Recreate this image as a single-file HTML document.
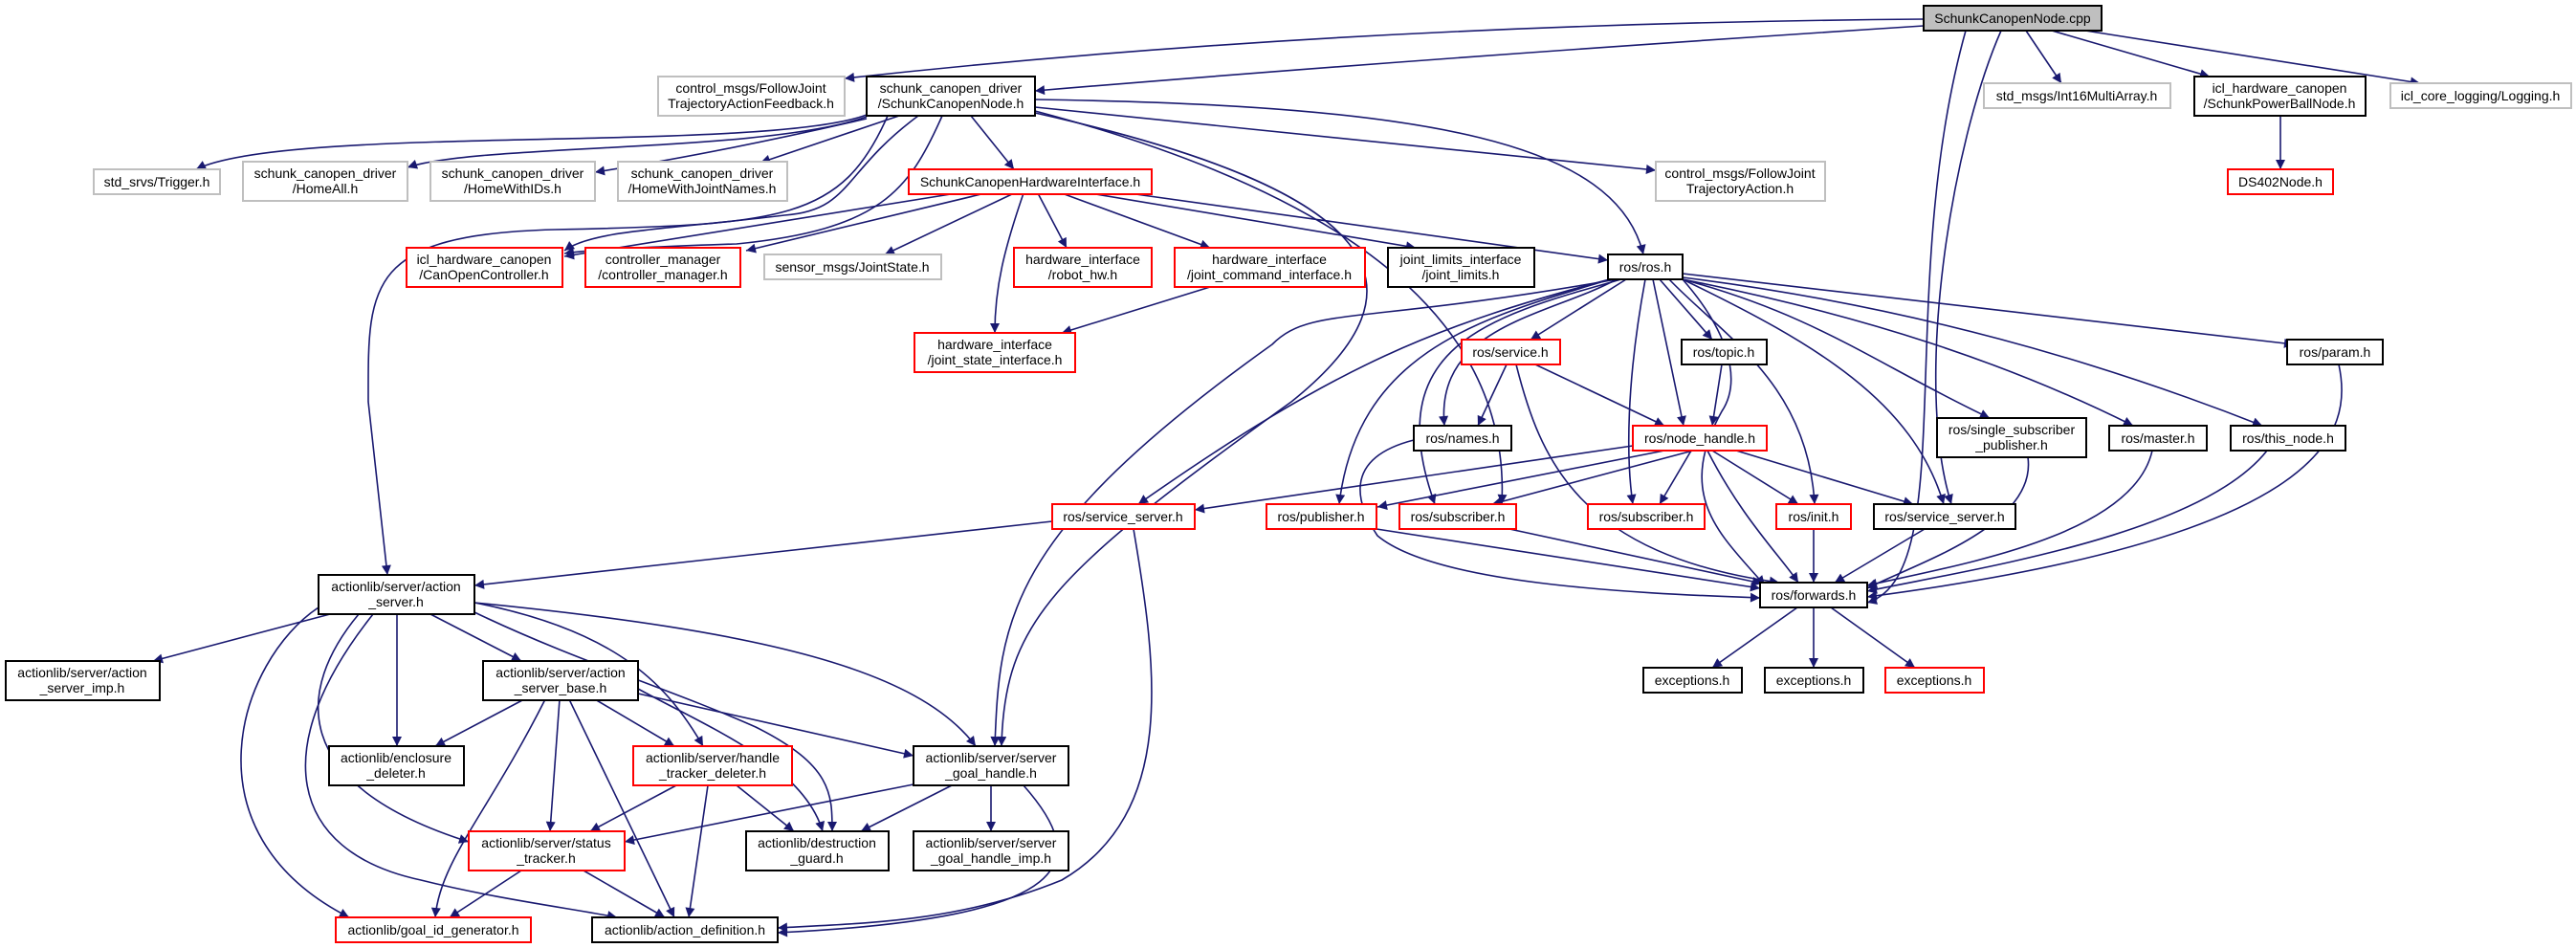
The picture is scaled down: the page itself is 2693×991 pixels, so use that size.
<!DOCTYPE html>
<html><head><meta charset="utf-8"><style>
html,body{margin:0;padding:0;background:#fff;width:2693px;height:991px;overflow:hidden}
svg{display:block}
text{font-family:"Liberation Sans",sans-serif;font-size:14px;fill:#000;text-anchor:middle}
.e{fill:none;stroke:#191970;stroke-width:1.6}
.g{fill:#fff;stroke:#bfbfbf;stroke-width:2}
.b{fill:#fff;stroke:#000;stroke-width:2}
.r{fill:#fff;stroke:#ff0000;stroke-width:2}
</style></head><body>
<svg width="2693" height="991" viewBox="0 0 2693 991" xmlns="http://www.w3.org/2000/svg">
<defs><marker id="a" viewBox="0 0 10 10" refX="10" refY="5" markerWidth="14" markerHeight="10" markerUnits="userSpaceOnUse" orient="auto"><path d="M0,0 L10,5 L0,10 z" fill="#191970"/></marker></defs>
<g class="e" marker-end="url(#a)">
<path d="M2011,20 Q1400,25 883,82"/>
<path d="M2011,27 Q1500,60 1082,95"/>
<path d="M2118,32 L2155,87"/>
<path d="M2145,32 L2310,80"/>
<path d="M2180,32 L2530,87"/>
<path d="M2092,32 C2040,150 2000,400 2040,527"/>
<path d="M906,120 C800,160 300,130 205,177"/>
<path d="M906,122 C800,160 500,150 426,175"/>
<path d="M906,124 Q750,160 622,180"/>
<path d="M940,121 L795,170"/>
<path d="M1015,121 L1060,177"/>
<path d="M960,121 C880,180 890,220 820,225 C700,240 620,240 590,262"/>
<path d="M985,121 C950,200 920,240 770,255 Q620,260 590,265"/>
<path d="M1082,112 L1731,178"/>
<path d="M1082,104 C1500,110 1690,150 1718,266"/>
<path d="M928,121 C880,230 820,235 580,240 C380,245 385,300 385,420 L405,601"/>
<path d="M1082,118 C1450,200 1500,300 1350,420 C1100,600 1050,650 1047,780"/>
<path d="M1082,116 C1400,200 1580,330 1570,527"/>
<path d="M1000,202 L590,268"/>
<path d="M1030,202 L780,262"/>
<path d="M1060,202 L925,266"/>
<path d="M1070,202 C1050,260 1040,300 1040,348"/>
<path d="M1085,202 L1115,259"/>
<path d="M1110,202 L1265,259"/>
<path d="M1140,202 L1480,259"/>
<path d="M1180,202 L1681,272"/>
<path d="M1265,300 L1110,348"/>
<path d="M2384,121 L2384,177"/>
<path d="M1700,292 L1600,355"/>
<path d="M1735,292 L1790,355"/>
<path d="M1759,286 L2398,360"/>
<path d="M1690,292 C1620,330 1500,340 1510,445"/>
<path d="M1728,292 L1760,445"/>
<path d="M1759,292 C1900,330 1960,380 2080,437"/>
<path d="M1759,292 C1950,330 2100,380 2230,445"/>
<path d="M1759,290 C2000,320 2200,380 2365,445"/>
<path d="M1690,290 C1500,340 1400,380 1190,527"/>
<path d="M1690,290 C1560,330 1420,360 1400,527"/>
<path d="M1695,292 C1560,330 1440,360 1500,527"/>
<path d="M1720,292 C1700,400 1700,480 1707,527"/>
<path d="M1745,292 C1800,350 1890,400 1897,527"/>
<path d="M1759,292 C1900,360 2000,420 2032,527"/>
<path d="M1690,292 C1420,340 1370,320 1330,360 C1050,560 1045,650 1040,780"/>
<path d="M1759,292 C1810,350 1820,400 1800,430 C1750,520 1800,560 1845,612"/>
<path d="M1575,381 L1545,445"/>
<path d="M1605,381 L1740,445"/>
<path d="M1585,381 C1610,480 1650,580 1860,609"/>
<path d="M1800,381 L1790,445"/>
<path d="M1707,466 L1249,533"/>
<path d="M1740,471 L1440,530"/>
<path d="M1770,471 L1560,527"/>
<path d="M1768,471 L1735,527"/>
<path d="M1790,471 L1880,527"/>
<path d="M1815,471 L2000,527"/>
<path d="M1785,471 C1820,540 1860,580 1880,609"/>
<path d="M1478,460 C1400,480 1420,530 1440,560 C1500,610 1700,620 1840,625"/>
<path d="M1439,553 L1840,615"/>
<path d="M1578,553 L1842,610"/>
<path d="M1896,553 L1896,609"/>
<path d="M2012,553 L1918,609"/>
<path d="M2120,478 C2130,550 2000,590 1952,615"/>
<path d="M2250,471 C2230,560 2050,590 1952,612"/>
<path d="M2370,471 C2300,560 2060,595 1952,618"/>
<path d="M2445,381 C2460,450 2440,560 1952,624"/>
<path d="M2055,32 C1980,300 2050,600 1952,630"/>
<path d="M1879,635 L1790,698"/>
<path d="M1896,635 L1896,698"/>
<path d="M1914,635 L2002,698"/>
<path d="M1100,545 L496,612"/>
<path d="M1185,553 C1210,700 1230,850 1110,920 C1000,965 900,965 813,970"/>
<path d="M345,642 L160,691"/>
<path d="M450,642 L545,691"/>
<path d="M415,642 L415,780"/>
<path d="M496,630 C650,660 700,720 735,780"/>
<path d="M496,630 C800,660 960,700 1020,780"/>
<path d="M496,640 C600,690 700,720 790,760 C870,800 870,830 870,869"/>
<path d="M375,642 C310,720 300,820 490,880"/>
<path d="M333,635 C250,690 190,870 365,959"/>
<path d="M390,642 C280,780 300,890 440,920 C520,940 600,950 645,959"/>
<path d="M548,731 L455,780"/>
<path d="M622,731 L705,780"/>
<path d="M667,725 L955,790"/>
<path d="M667,720 C740,760 840,800 860,869"/>
<path d="M585,731 L575,869"/>
<path d="M570,731 C510,850 460,900 455,959"/>
<path d="M595,731 L705,959"/>
<path d="M707,821 L617,869"/>
<path d="M770,821 L830,869"/>
<path d="M740,821 L720,959"/>
<path d="M955,820 L653,880"/>
<path d="M995,821 L900,869"/>
<path d="M1036,821 L1036,869"/>
<path d="M1070,821 C1140,900 1130,960 813,975"/>
<path d="M545,910 L470,959"/>
<path d="M610,910 L695,959"/>
</g>
<rect x="2011" y="6" width="186" height="26" fill="#bfbfbf" stroke="#000" stroke-width="2"/><text x="2104" y="24">SchunkCanopenNode.cpp</text>
<rect class="g" x="688" y="80" width="195" height="41"/><text x="785" y="97">control_msgs/FollowJoint</text><text x="785" y="113">TrajectoryActionFeedback.h</text>
<rect class="b" x="906" y="80" width="176" height="41"/><text x="994" y="97">schunk_canopen_driver</text><text x="994" y="113">/SchunkCanopenNode.h</text>
<rect class="g" x="2074" y="87" width="195" height="26"/><text x="2171" y="105">std_msgs/Int16MultiArray.h</text>
<rect class="b" x="2294" y="80" width="179" height="41"/><text x="2383" y="97">icl_hardware_canopen</text><text x="2383" y="113">/SchunkPowerBallNode.h</text>
<rect class="g" x="2499" y="87" width="189" height="26"/><text x="2593" y="105">icl_core_logging/Logging.h</text>
<rect class="g" x="98" y="177" width="132" height="26"/><text x="164" y="195">std_srvs/Trigger.h</text>
<rect class="g" x="254" y="169" width="172" height="41"/><text x="340" y="186">schunk_canopen_driver</text><text x="340" y="202">/HomeAll.h</text>
<rect class="g" x="450" y="169" width="172" height="41"/><text x="536" y="186">schunk_canopen_driver</text><text x="536" y="202">/HomeWithIDs.h</text>
<rect class="g" x="646" y="169" width="177" height="41"/><text x="734" y="186">schunk_canopen_driver</text><text x="734" y="202">/HomeWithJointNames.h</text>
<rect class="r" x="950" y="177" width="254" height="26"/><text x="1077" y="195">SchunkCanopenHardwareInterface.h</text>
<rect class="g" x="1731" y="169" width="177" height="41"/><text x="1819" y="186">control_msgs/FollowJoint</text><text x="1819" y="202">TrajectoryAction.h</text>
<rect class="r" x="2329" y="177" width="110" height="26"/><text x="2384" y="195">DS402Node.h</text>
<rect class="r" x="425" y="259" width="163" height="41"/><text x="506" y="276">icl_hardware_canopen</text><text x="506" y="292">/CanOpenController.h</text>
<rect class="r" x="612" y="259" width="162" height="41"/><text x="693" y="276">controller_manager</text><text x="693" y="292">/controller_manager.h</text>
<rect class="g" x="799" y="266" width="185" height="26"/><text x="891" y="284">sensor_msgs/JointState.h</text>
<rect class="r" x="1060" y="259" width="144" height="41"/><text x="1132" y="276">hardware_interface</text><text x="1132" y="292">/robot_hw.h</text>
<rect class="r" x="1228" y="259" width="199" height="41"/><text x="1327" y="276">hardware_interface</text><text x="1327" y="292">/joint_command_interface.h</text>
<rect class="b" x="1451" y="259" width="153" height="41"/><text x="1527" y="276">joint_limits_interface</text><text x="1527" y="292">/joint_limits.h</text>
<rect class="b" x="1681" y="266" width="78" height="26"/><text x="1720" y="284">ros/ros.h</text>
<rect class="r" x="956" y="348" width="168" height="41"/><text x="1040" y="365">hardware_interface</text><text x="1040" y="381">/joint_state_interface.h</text>
<rect class="r" x="1528" y="355" width="103" height="26"/><text x="1579" y="373">ros/service.h</text>
<rect class="b" x="1758" y="355" width="89" height="26"/><text x="1802" y="373">ros/topic.h</text>
<rect class="b" x="2391" y="355" width="100" height="26"/><text x="2441" y="373">ros/param.h</text>
<rect class="b" x="1478" y="445" width="102" height="26"/><text x="1529" y="463">ros/names.h</text>
<rect class="r" x="1707" y="445" width="140" height="26"/><text x="1777" y="463">ros/node_handle.h</text>
<rect class="b" x="2025" y="437" width="156" height="41"/><text x="2103" y="454">ros/single_subscriber</text><text x="2103" y="470">_publisher.h</text>
<rect class="b" x="2205" y="445" width="102" height="26"/><text x="2256" y="463">ros/master.h</text>
<rect class="b" x="2332" y="445" width="120" height="26"/><text x="2392" y="463">ros/this_node.h</text>
<rect class="r" x="1100" y="527" width="149" height="26"/><text x="1174" y="545">ros/service_server.h</text>
<rect class="r" x="1324" y="527" width="115" height="26"/><text x="1381" y="545">ros/publisher.h</text>
<rect class="r" x="1463" y="527" width="122" height="26"/><text x="1524" y="545">ros/subscriber.h</text>
<rect class="r" x="1660" y="527" width="122" height="26"/><text x="1721" y="545">ros/subscriber.h</text>
<rect class="r" x="1857" y="527" width="78" height="26"/><text x="1896" y="545">ros/init.h</text>
<rect class="b" x="1959" y="527" width="148" height="26"/><text x="2033" y="545">ros/service_server.h</text>
<rect class="b" x="1840" y="609" width="112" height="26"/><text x="1896" y="627">ros/forwards.h</text>
<rect class="b" x="1718" y="698" width="103" height="26"/><text x="1769" y="716">exceptions.h</text>
<rect class="b" x="1845" y="698" width="103" height="26"/><text x="1896" y="716">exceptions.h</text>
<rect class="r" x="1971" y="698" width="103" height="26"/><text x="2022" y="716">exceptions.h</text>
<rect class="b" x="333" y="601" width="163" height="41"/><text x="414" y="618">actionlib/server/action</text><text x="414" y="634">_server.h</text>
<rect class="b" x="6" y="691" width="161" height="41"/><text x="86" y="708">actionlib/server/action</text><text x="86" y="724">_server_imp.h</text>
<rect class="b" x="505" y="691" width="162" height="41"/><text x="586" y="708">actionlib/server/action</text><text x="586" y="724">_server_base.h</text>
<rect class="b" x="344" y="780" width="141" height="41"/><text x="414" y="797">actionlib/enclosure</text><text x="414" y="813">_deleter.h</text>
<rect class="r" x="662" y="780" width="166" height="41"/><text x="745" y="797">actionlib/server/handle</text><text x="745" y="813">_tracker_deleter.h</text>
<rect class="b" x="955" y="780" width="162" height="41"/><text x="1036" y="797">actionlib/server/server</text><text x="1036" y="813">_goal_handle.h</text>
<rect class="r" x="490" y="869" width="163" height="41"/><text x="571" y="886">actionlib/server/status</text><text x="571" y="902">_tracker.h</text>
<rect class="b" x="780" y="869" width="149" height="41"/><text x="854" y="886">actionlib/destruction</text><text x="854" y="902">_guard.h</text>
<rect class="b" x="955" y="869" width="162" height="41"/><text x="1036" y="886">actionlib/server/server</text><text x="1036" y="902">_goal_handle_imp.h</text>
<rect class="r" x="351" y="959" width="204" height="26"/><text x="453" y="977">actionlib/goal_id_generator.h</text>
<rect class="b" x="619" y="959" width="194" height="26"/><text x="716" y="977">actionlib/action_definition.h</text>
</svg>
</body></html>
